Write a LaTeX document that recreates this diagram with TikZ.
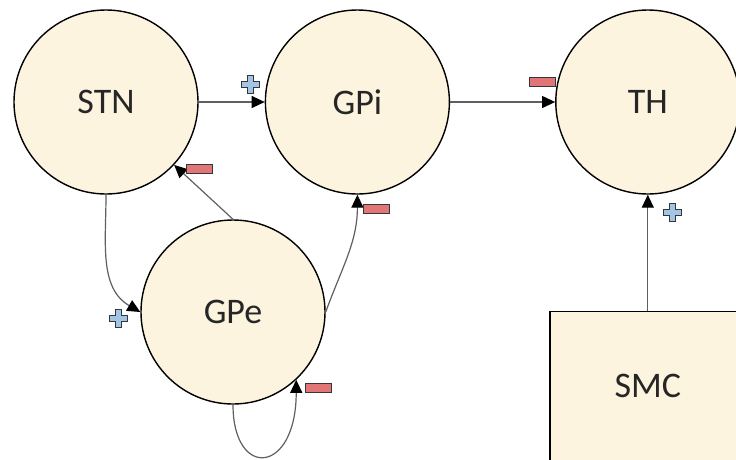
\documentclass[tikz,border=0pt]{standalone}
\usepackage{fontspec}
\setmainfont{Carlito}
\usetikzlibrary{positioning, arrows.meta}
\definecolor{nodefill}{RGB}{252,244,222}
\definecolor{excfill}{RGB}{163,196,226}
\definecolor{inhfill}{RGB}{226,118,118}
\definecolor{linkgray}{RGB}{95,95,95}
\definecolor{markline}{RGB}{50,55,62}

\begin{document}
\begin{tikzpicture}[
  x=1pt, y=1pt,
  >={Triangle[length=13pt,width=12pt,color=black]},
  nucleus/.style={circle, draw, line width=1.4pt, fill=nodefill,
                  minimum size=184pt, inner sep=0pt, text=black!85,
                  font=\fontsize{36}{40}\selectfont},
  area/.style={rectangle, draw, line width=1.4pt, fill=nodefill,
               minimum width=196pt, minimum height=150pt, text=black!85,
               font=\fontsize{36}{40}\selectfont},
  link/.style={->, line width=1.2pt, linkgray},
  plussign/.pic={\filldraw[fill=excfill, draw=markline, line width=1pt]
    (-3,-9) -- (3,-9) -- (3,-3) -- (9,-3) -- (9,3) -- (3,3) -- (3,9)
    -- (-3,9) -- (-3,3) -- (-9,3) -- (-9,-3) -- (-3,-3) -- cycle;},
  minussign/.pic={\filldraw[fill=inhfill, draw=markline, line width=1pt]
    (-13,-4.5) rectangle (13,4.5);},
]
\useasboundingbox (0,0) rectangle (736,-459);

% --- nuclei ---
\node[nucleus] (stn) at (106,-102) {STN};
\node[nucleus, right=66pt of stn] (gpi) {GPi};
\node[nucleus, right=105pt of gpi] (th) {TH};
\node[nucleus] (gpe) at (233,-312) {GPe};
\node[area, below=116pt of th] (smc) {SMC};

% --- straight links ---
\draw[link] (stn) -- (gpi);
\draw[link] (gpi) -- (th);
\draw[link] (smc) -- (th);
\draw[link] (gpe.north) -- (stn);

% --- curved links ---
\draw[link] (stn.south) to[out=-90, in=150] (gpe.west);
\draw[link] (gpe.east) to[out=70, in=-90] (gpi.south);
\draw[link] (gpe.south) .. controls +(0,-75) and +(0,-95) .. (gpe.-47);

% --- signs ---
\pic at ([shift={(-14,18)}]gpi.west) {plussign};
\pic at ([shift={(-13,20)}]th.west) {minussign};
\pic at ([shift={(25,-18)}]th.south) {plussign};
\pic at ([shift={(28,-1)}]stn.-45) {minussign};
\pic at ([shift={(19,-14)}]gpi.south) {minussign};
\pic at ([shift={(-22,-6)}]gpe.west) {plussign};
\pic at ([shift={(22,-8)}]gpe.-47) {minussign};
\end{tikzpicture}
\end{document}
